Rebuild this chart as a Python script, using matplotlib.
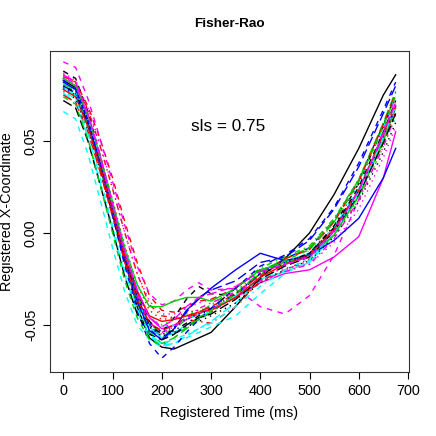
import matplotlib
matplotlib.use("Agg")
import matplotlib.pyplot as plt

plt.rcParams['font.family'] = ['Liberation Sans', 'DejaVu Sans']

# registered time grid (ms)
t = [0, 25, 50, 75, 100, 125, 150, 175, 200, 225, 250, 275, 300, 350, 400, 450, 500, 550, 600, 650, 675]

# registered x-coordinate, one list per curve
c01 = [.083, .079, .062, .038, .012, -.015, -.040, -.057, -.062, -.063, -.060, -.057, -.054, -.040, -.024, -.014, .000, .021, .046, .075, .086]
c02 = [.085, .082, .069, .051, .030, .006, -.016, -.034, -.042, -.043, -.040, -.037, -.036, -.030, -.020, -.016, -.011, .003, .023, .052, .069]
c03 = [.078, .074, .057, .035, .011, -.013, -.033, -.046, -.050, -.047, -.044, -.042, -.040, -.032, -.020, -.017, -.013, -.001, .018, .047, .063]
c04 = [.081, .076, .059, .036, .011, -.014, -.036, -.052, -.058, -.055, -.051, -.047, -.043, -.034, -.022, -.014, -.008, .007, .029, .059, .075]
c05 = [.076, .071, .052, .027, .002, -.023, -.043, -.056, -.061, -.060, -.056, -.052, -.048, -.038, -.026, -.017, -.011, .003, .024, .054, .070]
c06 = [.084, .080, .063, .040, .015, -.010, -.031, -.046, -.052, -.050, -.047, -.044, -.041, -.035, -.027, -.022, -.020, -.013, -.002, .030, .055]
c07 = [.088, .084, .066, .042, .016, -.010, -.032, -.048, -.054, -.046, -.036, -.029, -.033, -.034, -.022, -.017, -.011, .003, .025, .055, .072]
c08 = [.079, .075, .061, .041, .018, -.007, -.028, -.042, -.047, -.046, -.043, -.042, -.041, -.036, -.027, -.020, -.015, -.001, .020, .049, .066]
c09 = [.082, .078, .061, .039, .014, -.012, -.034, -.049, -.055, -.052, -.047, -.043, -.039, -.030, -.019, -.013, -.007, .008, .029, .059, .075]
c10 = [.080, .076, .060, .037, .012, -.014, -.035, -.050, -.057, -.052, -.043, -.035, -.031, -.026, -.016, -.013, -.004, .013, .036, .065, .080]
c11 = [.079, .075, .058, .035, .010, -.015, -.036, -.051, -.057, -.054, -.050, -.046, -.042, -.034, -.025, -.021, -.016, -.001, .021, .052, .069]
c12 = [.093, .090, .073, .051, .028, .004, -.018, -.033, -.039, -.037, -.031, -.027, -.031, -.030, -.040, -.044, -.034, -.012, .018, .056, .074]
c13 = [.077, .073, .056, .034, .009, -.016, -.037, -.051, -.056, -.054, -.051, -.048, -.045, -.038, -.027, -.020, -.015, -.002, .017, .044, .060]
c14 = [.086, .082, .067, .047, .024, .000, -.022, -.039, -.045, -.046, -.047, -.048, -.049, -.040, -.026, -.020, -.014, .001, .023, .054, .071]
c15 = [.081, .077, .060, .036, .010, -.016, -.038, -.054, -.060, -.057, -.052, -.047, -.043, -.033, -.021, -.014, -.008, .007, .029, .060, .077]
c16 = [.082, .078, .061, .037, .011, -.015, -.037, -.053, -.058, -.052, -.042, -.036, -.030, -.020, -.011, -.015, -.012, -.004, .008, .030, .046]
c17 = [.066, .062, .043, .018, -.008, -.032, -.050, -.058, -.062, -.060, -.057, -.054, -.051, -.045, -.033, -.022, -.015, .001, .023, .052, .068]
c18 = [.087, .083, .068, .048, .025, .000, -.022, -.037, -.044, -.044, -.041, -.038, -.036, -.031, -.024, -.019, -.017, -.005, .013, .041, .058]
c19 = [.080, .076, .059, .036, .011, -.014, -.035, -.050, -.055, -.053, -.049, -.045, -.041, -.030, -.020, -.016, -.011, .004, .027, .058, .075]
c20 = [.075, .071, .055, .033, .009, -.016, -.036, -.049, -.053, -.050, -.046, -.043, -.040, -.033, -.023, -.014, -.009, .006, .028, .059, .076]
c21 = [.084, .080, .064, .042, .017, -.008, -.028, -.040, -.040, -.037, -.035, -.035, -.037, -.030, -.020, -.016, -.013, -.001, .020, .050, .068]
c22 = [.083, .078, .061, .037, .010, -.018, -.042, -.060, -.068, -.062, -.054, -.047, -.041, -.030, -.018, -.012, -.003, .014, .038, .067, .082]
c23 = [.081, .077, .062, .041, .017, -.008, -.030, -.045, -.051, -.050, -.047, -.044, -.042, -.035, -.024, -.016, -.010, .005, .027, .057, .074]
c24 = [.085, .081, .064, .041, .015, -.011, -.033, -.049, -.054, -.051, -.046, -.041, -.038, -.032, -.026, -.021, -.017, -.003, .018, .047, .064]
c25 = [.072, .068, .050, .026, .002, -.024, -.044, -.055, -.058, -.055, -.050, -.046, -.044, -.036, -.025, -.018, -.013, .001, .021, .049, .065]
c26 = [.078, .074, .058, .036, .012, -.013, -.032, -.045, -.048, -.047, -.045, -.043, -.042, -.035, -.024, -.017, -.012, .002, .023, .053, .069]
c27 = [.074, .070, .051, .026, .000, -.026, -.046, -.058, -.061, -.057, -.051, -.046, -.042, -.033, -.022, -.015, -.009, .006, .028, .058, .075]
c28 = [.079, .075, .059, .037, .012, -.013, -.034, -.049, -.054, -.051, -.047, -.044, -.041, -.033, -.022, -.016, -.012, .002, .023, .052, .068]
c29 = [.077, .073, .054, .030, .004, -.021, -.041, -.055, -.060, -.058, -.055, -.052, -.049, -.040, -.029, -.020, -.014, .001, .022, .052, .069]
c30 = [.086, .082, .065, .042, .016, -.010, -.031, -.046, -.051, -.047, -.040, -.035, -.033, -.029, -.021, -.017, -.013, .001, .023, .054, .071]

curves = [c01, c02, c03, c04, c05, c06, c07, c08, c09, c10,
          c11, c12, c13, c14, c15, c16, c17, c18, c19, c20,
          c21, c22, c23, c24, c25, c26, c27, c28, c29, c30]

# R default palette and line types (matplot cycles both)
cols = ["black", "red", "#00CD00", "blue", "cyan", "magenta"]
ltys = ["-", (0, (4, 4)), (0, (1, 3)), (0, (1, 3, 4, 3)), (0, (7, 3))]

fig = plt.figure(figsize=(4.36, 4.36), dpi=100)
ax = fig.add_axes([0.1147, 0.1468, 0.8233, 0.7362])

for k, y in enumerate(curves):
    ax.plot(t, y, color=cols[k % 6], linestyle=ltys[k % 5], linewidth=1.0)

ax.set_xlim(-27, 702)
ax.set_ylim(-0.0755, 0.0989)
ax.set_xticks([0, 100, 200, 300, 400, 500, 600, 700])
ax.set_yticks([-0.05, 0.0, 0.05])
ax.set_yticklabels(["-0.05", "0.00", "0.05"], rotation=90, va="center")
ax.tick_params(labelsize=10.4, length=4.7, width=0.8, pad=4)

for s in ax.spines.values():
    s.set_linewidth(0.8)
    s.set_color("#333333")

ax.set_xlabel("Registered Time (ms)", fontsize=10.4, labelpad=6)
ax.set_ylabel("Registered X-Coordinate", fontsize=10.4, labelpad=7)
ax.set_title("Fisher-Rao", fontsize=9.7, fontweight="bold", pad=17)
ax.text(334, 0.058, "sls = 0.75", fontsize=12.4, ha="center", va="center")

fig.savefig("out.png", dpi=100)
